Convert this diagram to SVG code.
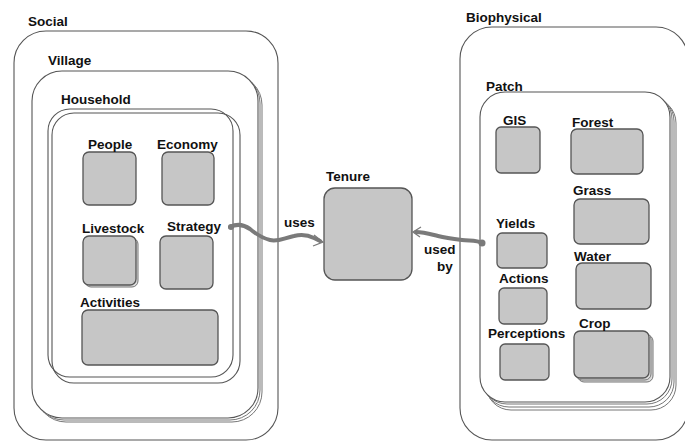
<svg xmlns="http://www.w3.org/2000/svg" width="685" height="441" viewBox="0 0 685 441">
  <style>
    text { font-family: "Liberation Sans", Arial, sans-serif; font-size: 13.5px; font-weight: bold; fill: #111; }
    .frame { fill: none; stroke: #555; stroke-width: 1.1; }
    .frame-w { fill: #fff; stroke: #555; stroke-width: 1.1; }
    .ghost { fill: #fff; stroke: #777; stroke-width: 1; }
    .box { fill: #c6c6c6; stroke: #555; stroke-width: 1.3; }
    .box-ghost { fill: #ddd; stroke: #777; stroke-width: 1; }
    .link { fill: none; stroke: #7a7a7a; stroke-width: 4; stroke-linecap: round; stroke-linejoin: round; }
    .tip { fill: none; stroke: #7a7a7a; stroke-width: 1.3; }
  </style>
  <rect width="685" height="441" fill="#fff"/>

  <!-- Social side -->
  <g id="social">
    <rect class="frame" x="14" y="31" width="264" height="409" rx="32"/>
    <text x="28" y="26">Social</text>
  </g>
  <g id="village">
    <rect class="ghost" x="36" y="75" width="226" height="347" rx="30"/>
    <rect class="ghost" x="34" y="73" width="226" height="347" rx="30"/>
    <rect class="frame-w" x="32" y="71" width="226" height="347" rx="30"/>
    <text x="48" y="65">Village</text>
  </g>
  <g id="household">
    <rect class="frame" x="52" y="113" width="188" height="270" rx="22"/>
    <rect class="frame" x="48" y="109" width="185" height="268" rx="22"/>
    <text x="61" y="104">Household</text>
  </g>
  <g id="people">
    <rect class="box" x="83" y="152" width="53" height="53" rx="6"/>
    <text x="88" y="149">People</text>
  </g>
  <g id="economy">
    <rect class="box" x="162" y="152" width="52" height="53" rx="6"/>
    <text x="157" y="149">Economy</text>
  </g>
  <g id="livestock">
    <rect class="box-ghost" x="85" y="238" width="53" height="49" rx="6"/>
    <rect class="box" x="83" y="236" width="53" height="49" rx="6"/>
    <text x="82" y="233">Livestock</text>
  </g>
  <g id="strategy">
    <rect class="box" x="160" y="236" width="53" height="53" rx="6"/>
    <text x="167" y="231">Strategy</text>
  </g>
  <g id="activities">
    <rect class="box" x="82" y="310" width="136" height="55" rx="6"/>
    <text x="80" y="307">Activities</text>
  </g>

  <!-- Centre -->
  <g id="tenure">
    <rect class="box" x="324" y="188" width="88" height="92" rx="11"/>
    <text x="326" y="181">Tenure</text>
  </g>

  <!-- Biophysical side -->
  <g id="biophysical">
    <rect class="frame" x="460" y="27" width="228" height="413" rx="32"/>
    <text x="466" y="22">Biophysical</text>
  </g>
  <g id="patch">
    <rect class="ghost" x="486" y="98" width="190" height="312" rx="25"/>
    <rect class="ghost" x="484" y="96" width="190" height="311" rx="25"/>
    <rect class="ghost" x="482" y="94" width="190" height="310" rx="25"/>
    <rect class="frame-w" x="480" y="92" width="190" height="310" rx="25"/>
    <text x="486" y="91">Patch</text>
  </g>
  <g id="gis">
    <rect class="box" x="496" y="127" width="44" height="46" rx="5"/>
    <text x="503" y="125">GIS</text>
  </g>
  <g id="forest">
    <rect class="box" x="571" y="129" width="72" height="45" rx="6"/>
    <text x="572" y="127">Forest</text>
  </g>
  <g id="grass">
    <rect class="box" x="574" y="199" width="75" height="45" rx="6"/>
    <text x="573" y="195">Grass</text>
  </g>
  <g id="yields">
    <rect class="box" x="497" y="233" width="50" height="35" rx="5"/>
    <text x="496" y="228">Yields</text>
  </g>
  <g id="water">
    <rect class="box" x="576" y="263" width="75" height="46" rx="6"/>
    <text x="574" y="261">Water</text>
  </g>
  <g id="actions">
    <rect class="box" x="499" y="288" width="48" height="36" rx="5"/>
    <text x="499" y="283">Actions</text>
  </g>
  <g id="perceptions">
    <rect class="box" x="500" y="344" width="49" height="36" rx="5"/>
    <text x="488" y="338">Perceptions</text>
  </g>
  <g id="crop">
    <rect class="box-ghost" x="578" y="335" width="75" height="47" rx="6"/>
    <rect class="box-ghost" x="576" y="333" width="75" height="47" rx="6"/>
    <rect class="box" x="574" y="331" width="75" height="47" rx="6"/>
    <text x="579" y="328">Crop</text>
  </g>

  <!-- Connectors -->
  <g id="connectors">
    <path class="link" d="M230 227 C236 224 243 224 250 229 C256 234 262 238 270 240 C278 242 284 238 294 236 C302 234 308 235 314 238 L320 241"/>
    <circle cx="231" cy="227" r="3" fill="#7a7a7a"/>
    <path class="tip" d="M314 235 L323 242 L313 246"/>
    <text x="284" y="227">uses</text>

    <path class="link" d="M483 243 C476 240 470 241 462 240 C454 239 446 238 438 236 C430 234 424 232 416 232"/>
    <circle cx="482" cy="243" r="3.5" fill="#7a7a7a"/>
    <path class="tip" d="M421 227 L413 232 L420 237"/>
    <text x="424" y="254">used</text>
    <text x="437" y="271">by</text>
  </g>
</svg>
